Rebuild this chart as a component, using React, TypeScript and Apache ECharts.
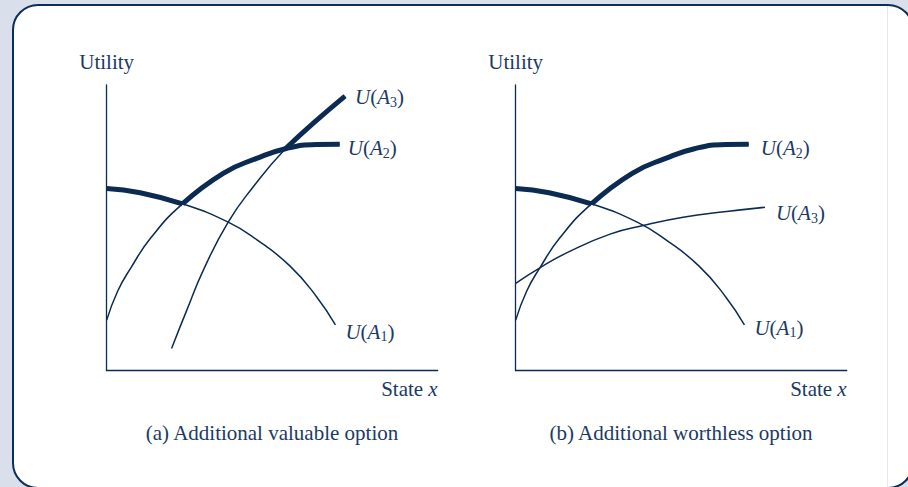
import React, { useEffect, useRef } from "react";
import * as echarts from "echarts";

// Both panels share the U(A1) and U(A2) curves — read as [state x, utility] on 0–100 scales
const U1: [number, number][] = [[0, 63.8], [10.1, 62.3], [22.9, 58.4], [36.7, 52.0], [45.3, 45.9], [55.4, 36.6], [63.4, 25.9], [69.1, 16.0]];
const U2: [number, number][] = [[0, 17.7], [3.3, 27.8], [7.3, 36.0], [13.4, 46.6], [22.9, 58.4], [35.2, 69.1], [45.3, 74.3], [54.0, 77.7], [63.4, 79.2], [70.4, 79.3]];
// Panel (a): additional valuable option
const aU3: [number, number][] = [[19.6, 7.8], [24.2, 21.2], [29.2, 35.2], [36.7, 52.0], [44.3, 64.4], [54.0, 77.7], [62.6, 86.8], [72.0, 96.1]];
// Panel (b): additional worthless option
const bU3: [number, number][] = [[0, 30.6], [7.3, 36.0], [16.0, 41.6], [28.5, 47.8], [38.5, 50.8], [50.6, 53.7], [63.7, 55.7], [75.3, 57.2]];

// Upper envelope (thick) segments, by index range in the arrays above
const thickU1 = U1.slice(0, 3);
const thickU2 = U2.slice(4);
const aThickU3 = aU3.slice(5);

const yAxisName = "Utility";
const xAxisName = "State {i|x}";
const captions = ["(a) Additional valuable option", "(b) Additional worthless option"];

const FONT = "'Liberation Serif', 'DejaVu Serif', serif";
const FS = 21;
const TXT = "#1b3a63";
const LINE = "#0b2b53";
const BG = "#d9e0ec";
const SMOOTH = 0.5;

const rich = {
  i: { fontStyle: "italic", fontFamily: FONT, fontSize: FS, color: TXT, lineHeight: 24 },
  r: { fontFamily: FONT, fontSize: FS, color: TXT, lineHeight: 24 },
  s: { fontFamily: FONT, fontSize: 14, color: TXT, lineHeight: 14, verticalAlign: "bottom" },
};

function lbl(n: number) {
  return `{i|U}{r|(}{i|A}{s|${n}}{r|)}`;
}

export default function App() {
  const ref = useRef<HTMLDivElement>(null);
  useEffect(() => {
    document.body.style.margin = "0";
    const chart = echarts.init(ref.current!, null, { renderer: "svg" });
    const axisLine = { show: true, lineStyle: { color: LINE, width: 1.3 } };
    const mkX = (gi: number) => ({
      type: "value", gridIndex: gi, min: 0, max: 100,
      axisLine, axisTick: { show: false }, axisLabel: { show: false }, splitLine: { show: false },
      name: xAxisName, nameLocation: "end", nameGap: 0,
      nameTextStyle: { fontFamily: FONT, fontSize: FS, color: TXT, align: "right", verticalAlign: "top", padding: [8, 0, 0, 0], rich: { i: { fontStyle: "italic", fontFamily: FONT, fontSize: FS, color: TXT } } },
    });
    const mkY = (gi: number) => ({
      type: "value", gridIndex: gi, min: 0, max: 100,
      axisLine, axisTick: { show: false }, axisLabel: { show: false }, splitLine: { show: false },
      name: yAxisName, nameLocation: "end", nameGap: 13,
      nameTextStyle: { fontFamily: FONT, fontSize: FS, color: TXT, align: "center" },
    });
    const thin = (gi: number, data: [number, number][], n: number, off: [number, number]) => ({
      type: "line", xAxisIndex: gi, yAxisIndex: gi, data, smooth: SMOOTH,
      showSymbol: false, symbol: "none",
      lineStyle: { color: LINE, width: 1.5 },
      endLabel: { show: true, formatter: lbl(n), rich, distance: 0, offset: off },
      z: 2,
    });
    const thick = (gi: number, data: [number, number][]) => ({
      type: "line", xAxisIndex: gi, yAxisIndex: gi, data, smooth: SMOOTH,
      showSymbol: false, symbol: "none",
      lineStyle: { color: LINE, width: 5, cap: "butt" },
      z: 3,
    });
    chart.setOption({
      animation: false,
      backgroundColor: BG,
      graphic: [
        { type: "rect", shape: { x: 13, y: 5, width: 900, height: 483, r: 25 }, style: { fill: "#ffffff", stroke: "#0c2d57", lineWidth: 2 }, z: -10 },
        { type: "line", shape: { x1: 887.5, y1: 6, x2: 887.5, y2: 487 }, style: { stroke: "#e4e7ec", lineWidth: 1 }, z: -9 },
        { type: "text", x: 272, y: 433, style: { text: captions[0], font: `${FS}px ${FONT}`, fill: TXT, align: "center", verticalAlign: "middle" } },
        { type: "text", x: 681, y: 433, style: { text: captions[1], font: `${FS}px ${FONT}`, fill: TXT, align: "center", verticalAlign: "middle" } },
      ],
      grid: [
        { left: 106.7, top: 85, width: 331, height: 285.7 },
        { left: 515.7, top: 85, width: 331, height: 285.7 },
      ],
      xAxis: [mkX(0), mkX(1)],
      yAxis: [mkY(0), mkY(1)],
      series: [
        thin(0, U1, 1, [10, 7]),
        thin(0, U2, 2, [8, 4]),
        thin(0, aU3, 3, [10, 1]),
        thick(0, thickU1),
        thick(0, thickU2),
        thick(0, aThickU3),
        thin(1, U1, 1, [10, 3]),
        thin(1, U2, 2, [12, 4]),
        thin(1, bU3, 3, [11, 6]),
        thick(1, thickU1),
        thick(1, thickU2),
      ],
    });
    return () => chart.dispose();
  }, []);
  return <div ref={ref} style={{ position: "absolute", left: 0, top: 0, width: 908, height: 487 }} />;
}
